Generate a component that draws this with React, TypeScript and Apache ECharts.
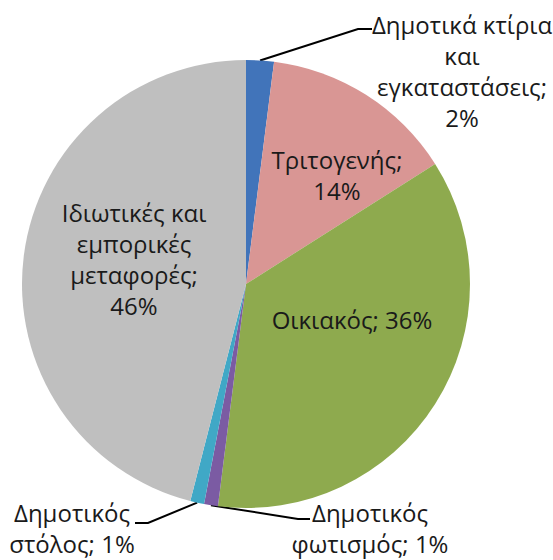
import React, { useEffect, useRef } from "react";
import * as echarts from "echarts";

const categories = [
  "Δημοτικά κτίρια και εγκαταστάσεις",
  "Τριτογενής",
  "Οικιακός",
  "Δημοτικός φωτισμός",
  "Δημοτικός στόλος",
  "Ιδιωτικές και εμπορικές μεταφορές",
];
const labelNames = [
  "Δημοτικά κτίρια\nκαι\nεγκαταστάσεις",
  "Τριτογενής",
  "Οικιακός",
  "Δημοτικός\nφωτισμός",
  "Δημοτικός\nστόλος",
  "Ιδιωτικές και\nεμπορικές\nμεταφορές",
];
const labelBreakBeforeValue = [true, true, false, false, false, true];
const values = [2, 14, 36, 1, 1, 46];
const colors = ["#4174BA", "#D99694", "#8EAA4E", "#7B5BA3", "#40A8C6", "#BFBFBF"];

// label anchor positions (text centre) and leader-line elbows
const labelPos: number[][] = [
  [462, 71],
  [337, 175],
  [352, 319],
  [370, 528],
  [72, 528],
  [134, 259],
];
const leaderPts: (number[][] | null)[] = [
  [[358, 29], [372, 29]],
  null,
  null,
  [[298, 519], [310, 519]],
  [[148, 523], [135, 523]],
  null,
];

export default function App() {
  const ref = useRef<HTMLDivElement>(null);
  useEffect(() => {
    if (!ref.current) return;
    const chart = echarts.init(ref.current, null, { renderer: "svg" });
    const outside = [0, 3, 4];
    chart.setOption({
      animation: false,
      backgroundColor: "#ffffff",
      series: [
        {
          type: "pie",
          center: [246, 284],
          radius: 224,
          startAngle: 90,
          clockwise: true,
          avoidLabelOverlap: false,
          itemStyle: { borderWidth: 0 },
          label: {
            fontFamily: "Open Sans",
            fontSize: 24,
            lineHeight: 31,
            color: "#1a1a1a",
            align: "center",
            formatter: (p: any) => {
              const i = p.dataIndex;
              const pct = Math.round(p.percent);
              return labelNames[i] + (labelBreakBeforeValue[i] ? ";\n" : "; ") + pct + "%";
            },
          },
          labelLine: {
            show: true,
            length: 10,
            length2: 10,
            smooth: false,
            lineStyle: { color: "#000000", width: 2 },
          },
          labelLayout: (params: any) => {
            const i = params.dataIndex;
            const res: any = {
              x: labelPos[i][0],
              y: labelPos[i][1],
              align: "center",
              verticalAlign: "middle",
            };
            const lp = leaderPts[i];
            if (lp && params.labelLinePoints) {
              res.labelLinePoints = [params.labelLinePoints[0], lp[0], lp[1]];
            }
            return res;
          },
          data: categories.map((name, i) => ({
            name,
            value: values[i],
            itemStyle: { color: colors[i] },
            label: { position: outside.includes(i) ? "outside" : "inside" },
            labelLine: { show: outside.includes(i) },
          })),
        },
      ],
    });
    return () => chart.dispose();
  }, []);
  return (
    <div
      ref={ref}
      style={{ position: "absolute", left: 0, top: 0, width: 553, height: 560 }}
    />
  );
}
